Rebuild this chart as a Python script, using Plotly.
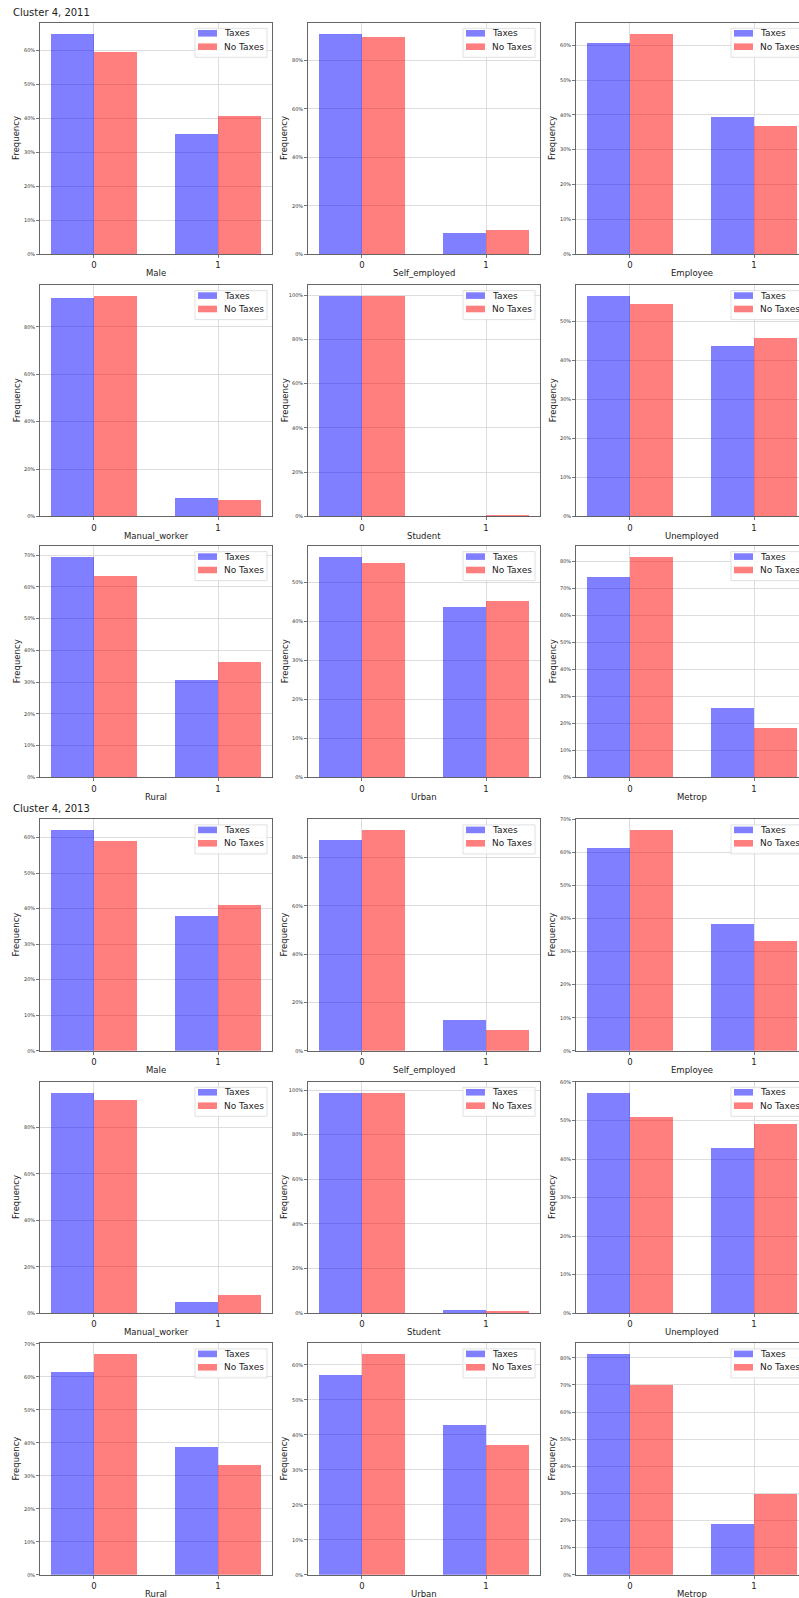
import plotly.graph_objects as go

# ---------------- data ----------------
variables = ["Male", "Self_employed", "Employee",
             "Manual_worker", "Student", "Unemployed",
             "Rural", "Urban", "Metrop"]
categories = [0, 1]
category_labels = ["0", "1"]
years = ["2011", "2013"]

# frequency (%) of category 0 / category 1, per variable
taxes_2011_cat0 = [64.8, 91.1, 60.5, 92.2, 99.6, 56.4, 69.4, 56.4, 74.2]
taxes_2011_cat1 = [35.2, 8.9, 39.5, 7.8, 0.4, 43.6, 30.6, 43.6, 25.8]
notaxes_2011_cat0 = [59.5, 89.9, 63.3, 93.0, 99.4, 54.3, 63.5, 54.9, 81.7]
notaxes_2011_cat1 = [40.5, 10.1, 36.7, 7.0, 0.6, 45.7, 36.5, 45.1, 18.3]

taxes_2013_cat0 = [62.0, 87.2, 61.5, 95.0, 98.7, 57.2, 61.3, 57.2, 81.3]
taxes_2013_cat1 = [38.0, 12.8, 38.5, 5.0, 1.3, 42.8, 38.7, 42.8, 18.7]
notaxes_2013_cat0 = [59.0, 91.2, 66.7, 92.0, 98.8, 51.0, 66.8, 63.0, 70.1]
notaxes_2013_cat1 = [41.0, 8.8, 33.3, 8.0, 1.2, 49.0, 33.2, 37.0, 29.9]

series_names = ["Taxes", "No Taxes"]

# ---------------- layout geometry (pixels) ----------------
W, H = 799, 1598
FONT = "DejaVu Sans"
col_left = [40, 308, 576]
ax_w = 232
row_top = [22.7, 285, 546, 819.3, 1081.7, 1343.3]
ax_h = 231.5
y_dticks = [10, 20, 10, 20, 20, 10, 10, 10, 10]
bar_w = 0.35
xr = (-0.435, 1.435)
px_per_unit = ax_w / (xr[1] - xr[0])

blue = "rgba(0,0,255,0.5)"
red = "rgba(255,0,0,0.5)"
spine = "#555"


def px(x):
    return x / W


def py(y):
    return 1 - y / H


fig = go.Figure()
layout = dict(
    width=W, height=H,
    margin=dict(l=0, r=0, t=0, b=0, autoexpand=False),
    paper_bgcolor="white", plot_bgcolor="white",
    showlegend=False,
    font=dict(family=FONT, color="#222"),
    bargap=0, barmode="overlay",
)
annotations = []
shapes = []

data_by_year = {
    "2011": (taxes_2011_cat0, taxes_2011_cat1, notaxes_2011_cat0, notaxes_2011_cat1),
    "2013": (taxes_2013_cat0, taxes_2013_cat1, notaxes_2013_cat0, notaxes_2013_cat1),
}

idx = 0
for yi, year in enumerate(years):
    t0, t1, n0, n1 = data_by_year[year]
    for vi, var in enumerate(variables):
        idx += 1
        r = yi * 3 + vi // 3
        c = vi % 3
        sfx = "" if idx == 1 else str(idx)
        L = col_left[c]
        T = row_top[r]
        B = T + ax_h
        full_R = L + ax_w
        R = min(full_R, W)
        x_hi = xr[0] + (R - L) / px_per_unit

        taxes_vals = [t0[vi], t1[vi]]
        notax_vals = [n0[vi], n1[vi]]
        ymax = 1.05 * max(taxes_vals + notax_vals)

        fig.add_trace(go.Bar(x=categories, y=taxes_vals, width=bar_w, offset=-bar_w,
                             marker=dict(color=blue, line=dict(width=0)),
                             name=series_names[0], xaxis="x" + sfx, yaxis="y" + sfx))
        fig.add_trace(go.Bar(x=categories, y=notax_vals, width=bar_w, offset=0,
                             marker=dict(color=red, line=dict(width=0)),
                             name=series_names[1], xaxis="x" + sfx, yaxis="y" + sfx))

        layout["xaxis" + sfx] = dict(
            domain=[px(L), px(R)], anchor="y" + sfx, range=[xr[0], x_hi],
            tickmode="array", tickvals=categories, ticktext=category_labels,
            showgrid=True, gridcolor="#d4d4d4", gridwidth=0.8, zeroline=False,
            showline=True, linecolor=spine, linewidth=0.9, mirror=True,
            ticks="outside", ticklen=3, tickwidth=0.8, tickcolor=spine,
            tickfont=dict(size=8.5, color="#222", family=FONT),
            fixedrange=True,
        )
        layout["yaxis" + sfx] = dict(
            domain=[py(B), py(T)], anchor="x" + sfx, range=[0, ymax],
            tick0=0, dtick=y_dticks[vi], ticksuffix="%",
            showgrid=True, gridcolor="#d4d4d4", gridwidth=0.8, zeroline=False,
            showline=True, linecolor=spine, linewidth=0.9,
            mirror=(c != 2),
            ticks="outside", ticklen=3, tickwidth=0.8, tickcolor=spine,
            tickfont=dict(size=5, color="#333", family=FONT),
            fixedrange=True,
        )

        # axis titles
        annotations.append(dict(text=var, x=px((L + full_R) / 2), y=py(B + 19),
                                xref="paper", yref="paper", showarrow=False,
                                xanchor="center", yanchor="middle",
                                font=dict(size=8.5, color="#222", family=FONT)))
        annotations.append(dict(text="Frequency", x=px(L - 23.5), y=py((T + B) / 2),
                                xref="paper", yref="paper", showarrow=False, textangle=-90,
                                xanchor="center", yanchor="middle",
                                font=dict(size=8.5, color="#222", family=FONT)))

        # legend box
        shapes.append(dict(type="rect", xref="paper", yref="paper",
                           x0=px(full_R - 77), x1=px(full_R - 5),
                           y0=py(T + 34.6), y1=py(T + 5.6),
                           fillcolor="rgba(255,255,255,0.85)",
                           line=dict(color="#d9d9d9", width=0.8), layer="above"))
        for k, (nm, col) in enumerate(zip(series_names, [blue, red])):
            cy = T + 10.6 + 13.4 * k
            shapes.append(dict(type="rect", xref="paper", yref="paper",
                               x0=px(full_R - 74), x1=px(full_R - 55),
                               y0=py(cy + 3.3), y1=py(cy - 3.3),
                               fillcolor=col, line=dict(width=0), layer="above"))
            annotations.append(dict(text=nm, x=px(full_R - 50), y=py(cy),
                                    xref="paper", yref="paper", showarrow=False,
                                    xanchor="left", yanchor="middle",
                                    font=dict(size=9, color="#222", family=FONT)))

# group titles
annotations.append(dict(text="Cluster 4, 2011", x=px(11), y=py(13), xref="paper", yref="paper",
                        showarrow=False, xanchor="left", yanchor="middle",
                        font=dict(size=10, color="#222", family=FONT)))
annotations.append(dict(text="Cluster 4, 2013", x=px(11), y=py(808), xref="paper", yref="paper",
                        showarrow=False, xanchor="left", yanchor="middle",
                        font=dict(size=10, color="#222", family=FONT)))

layout["annotations"] = annotations
layout["shapes"] = shapes
fig.update_layout(**layout)
fig.write_html(
    "out.html",
    config={"displayModeBar": False, "staticPlot": True},
    post_script="document.body.style.margin='0';document.body.style.overflow='hidden';",
)
